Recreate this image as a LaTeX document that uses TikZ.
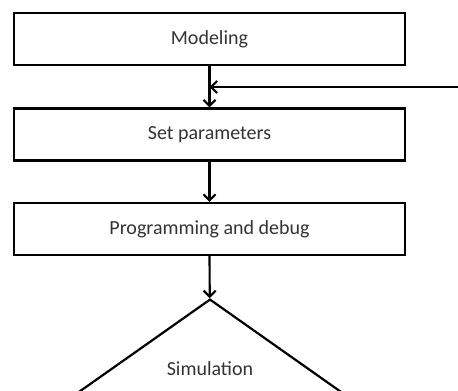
\documentclass[tikz,border=0pt]{standalone}
\usepackage{fontspec}
\setmainfont{Carlito}
\usetikzlibrary{shapes.geometric,arrows.meta}
\begin{document}
\begin{tikzpicture}
        [x=1pt, y=-1pt,
        stepbox/.style={rectangle,draw,line width=2.2pt, minimum width=391pt, minimum height=52pt, inner sep=0pt, text=black!80, font=\fontsize{20}{24}\selectfont},
        decision/.style={diamond,draw,line width=2.2pt, minimum width=340pt, minimum height=240pt, inner sep=0pt},
        txt/.style={text=black!80, font=\fontsize{20}{24}\selectfont},
        flow/.style={line width=2.2pt, -{Straight Barb[length=6pt,width=12pt,line width=2.2pt]}}]
        \useasboundingbox (0,0) rectangle (458,391);
        \clip (0,0) rectangle (458,391);
        \node[stepbox] (M) at (209.5,39) {Modeling};
        \node[stepbox] (S) at (209.5,134.5) {Set parameters};
        \node[stepbox] (P) at (209.5,229) {Programming and debug};
        \node[decision, anchor=north] (D) at (210,298) {};
        \node[txt] (Dt) at (210,369) {Simulation};
        \coordinate (R) at (460,87);
        \coordinate (J) at (M.south |- R);
        
        \draw[flow] (M) -- (S);
        \draw[flow] (S) -- (P);
        \draw[flow] (P) -- (D);
        \draw[flow] (R) -- (J);
    \end{tikzpicture}
\end{document}
